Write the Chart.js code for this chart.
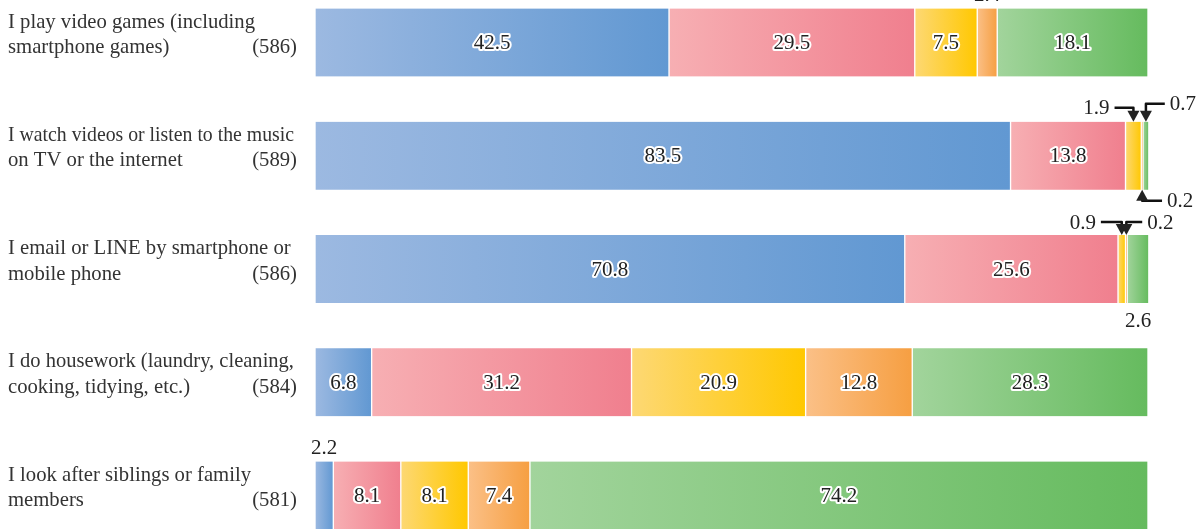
<!DOCTYPE html>
<html>
<head>
<meta charset="utf-8">
<script src="https://cdn.jsdelivr.net/npm/chart.js@4.4.1/dist/chart.umd.min.js"></script>
<style>
  html, body { margin: 0; padding: 0; background: #fff; overflow: hidden; }
  #wrap { position: relative; width: 1199px; height: 529px; }
</style>
</head>
<body>
<div id="wrap"><canvas id="c"></canvas></div>
<script>
// Activities and respondent counts
const categories = [
  ['I play video games (including', 'smartphone games)'],
  ['I watch videos or listen to the music', 'on TV or the internet'],
  ['I email or LINE by smartphone or', 'mobile phone'],
  ['I do housework (laundry, cleaning,', 'cooking, tidying, etc.)'],
  ['I look after siblings or family', 'members']
];
const counts = [586, 589, 586, 584, 581];

// Share of answers (%) for each response band, one array per band
const series1 = [42.5, 83.5, 70.8, 6.8, 2.2];
const series2 = [29.5, 13.8, 25.6, 31.2, 8.1];
const series3 = [7.5, 1.9, 0.9, 20.9, 8.1];
const series4 = [2.4, 0.2, 0.2, 12.8, 7.4];
const series5 = [18.1, 0.7, 2.6, 28.3, 74.2];

const allSeries = [series1, series2, series3, series4, series5];

// Horizontal gradient stops per band (light -> saturated)
const gradientStops = [
  ['#9cb9e1', '#6198d2'],
  ['#f7afb3', '#f07f8e'],
  ['#fdd874', '#ffc800'],
  ['#fbc087', '#f69f42'],
  ['#a2d49c', '#65bb5e']
];

// Values too narrow for an inside label, drawn beside the bar
// side: 'above' | 'below'; leader: none | 'left' (text left of arrow) | 'right'
const outsideLabels = [
  { row: 0, s: 3, side: 'above', dy: -13 },
  { row: 1, s: 2, side: 'above', leader: 'left', dx: 37, dy: -14 },
  { row: 1, s: 4, side: 'above', leader: 'right', dx: 37, dy: -18 },
  { row: 1, s: 3, side: 'below', leader: 'right', dx: 38, dy: 11 },
  { row: 2, s: 2, side: 'above', leader: 'left', dx: 39, dy: -13 },
  { row: 2, s: 3, side: 'above', leader: 'right', dx: 34, dy: -13 },
  { row: 2, s: 4, side: 'below', dy: 18 },
  { row: 4, s: 0, side: 'above', dy: -13 }
];

const SERIF = '"Liberation Serif", "Times New Roman", "DejaVu Serif", serif';

function startOf(s, i) {
  let t = 0;
  for (let k = 0; k < s; k++) t += allSeries[k][i];
  return t;
}

function makeBg(s) {
  return function (ctx) {
    const chart = ctx.chart;
    if (!chart.chartArea || ctx.type !== 'data') return gradientStops[s][1];
    const i = ctx.dataIndex;
    const xs = chart.scales.x;
    const a = startOf(s, i);
    const x0 = xs.getPixelForValue(a);
    const x1 = xs.getPixelForValue(a + allSeries[s][i]);
    const g = chart.ctx.createLinearGradient(x0, 0, Math.max(x1, x0 + 1), 0);
    g.addColorStop(0, gradientStops[s][0]);
    g.addColorStop(1, gradientStops[s][1]);
    return g;
  };
}

const datasets = allSeries.map((data, s) => ({
  label: 'band' + (s + 1),
  data: data,
  backgroundColor: makeBg(s),
  borderColor: '#ffffff',
  borderWidth: { left: 1, right: 1, top: 0, bottom: 0 },
  borderSkipped: false,
  barThickness: 68,
  clip: false
}));

function arrowHead(ctx, x, y, dir) {
  // dir: 1 = pointing down, -1 = pointing up
  ctx.beginPath();
  ctx.moveTo(x - 6, y - dir * 11);
  ctx.lineTo(x + 6, y - dir * 11);
  ctx.lineTo(x, y);
  ctx.closePath();
  ctx.fill();
}

const labelPlugin = {
  id: 'labels',
  afterDatasetsDraw(chart) {
    const ctx = chart.ctx;
    const ys = chart.scales.y;
    ctx.save();

    // Category captions with respondent counts
    ctx.fillStyle = '#333333';
    ctx.font = '20.7px ' + SERIF;
    ctx.textBaseline = 'alphabetic';
    categories.forEach((lines, i) => {
      const cy = ys.getPixelForValue(i);
      ctx.textAlign = 'left';
      ctx.fillText(lines[0], 8, cy - 15, 286);
      ctx.fillText(lines[1], 8, cy + 10.5, 230);
      ctx.textAlign = 'right';
      ctx.fillText('(' + counts[i] + ')', 297, cy + 10.5);
    });

    // Values inside the segments, outlined in white
    ctx.font = '21px ' + SERIF;
    ctx.textAlign = 'center';
    ctx.textBaseline = 'middle';
    ctx.lineJoin = 'round';
    chart.data.datasets.forEach((ds, s) => {
      const meta = chart.getDatasetMeta(s);
      meta.data.forEach((bar, i) => {
        const v = ds.data[i];
        if (v < 3) return;
        const p = bar.getProps(['x', 'y', 'base'], true);
        const cx = (p.x + p.base) / 2;
        ctx.lineWidth = 4;
        ctx.strokeStyle = '#ffffff';
        ctx.strokeText(v.toFixed(1), cx, p.y + 1);
        ctx.fillStyle = '#222222';
        ctx.fillText(v.toFixed(1), cx, p.y + 1);
      });
    });

    // Small values placed outside the bar, some with elbow arrows
    ctx.fillStyle = '#222222';
    ctx.strokeStyle = '#111111';
    ctx.lineWidth = 2.5;
    outsideLabels.forEach(o => {
      const bar = chart.getDatasetMeta(o.s).data[o.row];
      const p = bar.getProps(['x', 'y', 'base', 'height'], true);
      const cx = (p.x + p.base) / 2;
      const edge = o.side === 'above' ? p.y - p.height / 2 : p.y + p.height / 2;
      const ty = edge + o.dy;
      const txt = allSeries[o.s][o.row].toFixed(1);
      ctx.textBaseline = 'middle';
      ctx.textAlign = 'center';
      if (!o.leader) {
        ctx.fillText(txt, cx, ty);
        return;
      }
      const tx = o.leader === 'left' ? cx - o.dx : cx + o.dx;
      ctx.fillText(txt, tx, ty + 1);
      const half = ctx.measureText(txt).width / 2;
      const lineEnd = o.leader === 'left' ? tx + half + 5 : tx - half - 5;
      const dir = o.side === 'above' ? 1 : -1;
      ctx.beginPath();
      ctx.moveTo(lineEnd, ty);
      ctx.lineTo(cx, ty);
      ctx.lineTo(cx, edge - dir * 10);
      ctx.stroke();
      arrowHead(ctx, cx, edge, dir);
    });
    ctx.restore();
  }
};

new Chart(document.getElementById('c'), {
  type: 'bar',
  data: { labels: categories.map(c => c.join(' ')), datasets: datasets },
  options: {
    indexAxis: 'y',
    responsive: true,
    maintainAspectRatio: false,
    animation: false,
    layout: { padding: { left: 315, right: 51, top: 42.5, bottom: 33.5 } },
    scales: {
      x: { stacked: true, min: 0, max: 100, display: false },
      y: { stacked: true, offset: false, display: false }
    },
    plugins: { legend: { display: false }, tooltip: { enabled: false } }
  },
  plugins: [labelPlugin]
});
</script>
</body>
</html>
